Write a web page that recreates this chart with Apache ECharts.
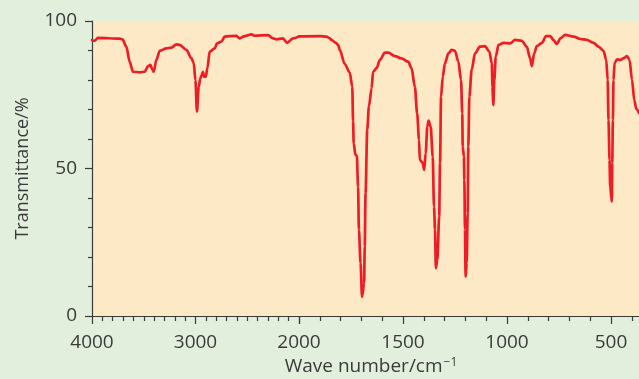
<!DOCTYPE html>
<html>
<head>
<meta charset="utf-8">
<script src="https://cdn.jsdelivr.net/npm/echarts@6/dist/echarts.min.js"></script>
<style>
  html, body { margin: 0; padding: 0; background: #e3efdd; }
  #chart { width: 639px; height: 379px; }
</style>
</head>
<body>
<div id="chart"></div>
<script>
// IR spectrum: transmittance (%) against wave number (cm^-1).
// The 4000-2000 region is drawn at half the scale of the region below 2000.

// 4000-2000 cm^-1
const wnHigh = [4000, 3974, 3942, 3732, 3706, 3668, 3636, 3604, 3539, 3491, 3459, 3436, 3416, 3404, 3378,
  3346, 3281, 3233, 3185, 3153, 3088, 3040, 3017, 3001, 2986, 2969, 2953, 2940, 2928, 2918, 2901, 2885,
  2863, 2814, 2792, 2750, 2718, 2605, 2573, 2525, 2460, 2428, 2300, 2251, 2218, 2155, 2116, 2058, 2000];
const tHigh = [93.5, 93.3, 94.3, 94.0, 93.8, 91.3, 86.2, 82.8, 82.6, 82.8, 84.7, 85.1, 83.4, 82.8, 86.8,
  89.9, 90.7, 91.0, 92.1, 91.9, 90.2, 87.4, 85.7, 80.0, 69.3, 77.7, 80.6, 81.7, 82.8, 81.1, 81.1, 84.0,
  89.6, 90.7, 92.4, 93.0, 94.7, 95.0, 94.1, 94.9, 95.5, 95.0, 95.2, 94.1, 93.8, 94.1, 92.6, 94.1, 94.8];

// 2000-364 cm^-1
const wnLow = [2000, 1900, 1868, 1852, 1844, 1823, 1812, 1804, 1780, 1756, 1744, 1740, 1737, 1729, 1722,
  1716, 1712, 1704, 1697, 1687, 1684, 1680, 1672, 1664, 1651, 1644, 1627, 1611, 1587, 1571, 1539, 1507,
  1475, 1459, 1443, 1432, 1423, 1419, 1406, 1398, 1391, 1383, 1377, 1367, 1357, 1351, 1346, 1342, 1335,
  1326, 1322, 1317, 1309, 1298, 1282, 1266, 1250, 1234, 1221, 1215, 1213, 1207, 1205, 1202, 1199, 1194,
  1189, 1186, 1181, 1170, 1154, 1130, 1106, 1085, 1073, 1070, 1066, 1061, 1054, 1041, 1017, 985, 961,
  929, 905, 889, 881, 869, 857, 832, 812, 792, 777, 760, 744, 720, 680, 648, 616, 584, 560, 536, 523,
  516, 512, 507, 504, 496, 494, 491, 488, 483, 471, 455, 439, 423, 411, 399, 388, 378, 364];
const tLow = [94.8, 94.9, 94.7, 94.1, 93.6, 92.6, 91.9, 90.2, 85.4, 82.5, 77.7, 66.0, 58.5, 54.6, 54.4,
  43.8, 29.2, 17.9, 6.5, 11.1, 23.5, 41.6, 63.1, 71.0, 77.2, 82.8, 84.0, 86.8, 89.3, 89.3, 88.1, 87.3,
  86.2, 84.0, 77.7, 68.7, 59.7, 52.9, 52.0, 49.5, 55.2, 64.2, 66.2, 64.2, 54.0, 37.1, 29.2, 16.2, 19.0,
  33.7, 51.8, 74.3, 81.1, 85.7, 89.0, 90.2, 89.9, 86.2, 80.0, 68.7, 57.4, 54.0, 46.1, 29.2, 13.3, 17.9,
  34.8, 57.4, 74.3, 83.4, 89.0, 91.3, 91.5, 89.6, 85.7, 77.7, 71.5, 80.0, 87.9, 91.9, 92.6, 92.4, 93.6,
  93.3, 91.3, 87.4, 84.7, 89.0, 91.5, 92.6, 94.9, 94.9, 93.6, 92.2, 94.1, 95.3, 94.7, 93.9, 93.6, 92.6, 91.3, 89.9, 86.8,
  80.0, 66.4, 52.9, 43.8, 38.8, 51.8, 66.4, 80.0, 85.7, 87.0, 86.8, 87.4, 88.1, 86.8, 80.0, 73.2, 70.1, 68.7];

const yTicks = [0, 50, 100];

const ink = '#3a3a3a';
const red = '#ee1d25';
const plotBg = '#fde9c5';
const font = 'Open Sans';

const zip = (xs, ys) => xs.map((x, i) => [x, ys[i]]);

const tickCommon = {
  axisLine: { show: true, onZero: false, lineStyle: { color: ink, width: 1.2 } },
  axisTick: { show: true, length: 8, lineStyle: { color: ink, width: 1.2 } },
  minorTick: { show: true, length: 5, lineStyle: { color: ink, width: 1.2 } },
  splitLine: { show: false },
  minorSplitLine: { show: false },
  axisLabel: { color: ink, fontFamily: font, fontSize: 19, margin: 17, formatter: v => String(v) }
};

const lineStyle = { color: red, width: 2.7, join: 'round', cap: 'round' };

const chart = echarts.init(document.getElementById('chart'), null, { renderer: 'canvas' });

chart.setOption({
  backgroundColor: '#e3efdd',
  animation: false,
  grid: [
    { left: 92, top: 21, width: 207, height: 295, show: true, backgroundColor: plotBg, borderWidth: 0,
      outerBoundsMode: 'none', containLabel: false },
    { left: 299, top: 21, width: 416, height: 295, show: true, backgroundColor: plotBg, borderWidth: 0,
      outerBoundsMode: 'none', containLabel: false }
  ],
  xAxis: [
    Object.assign({}, tickCommon, {
      type: 'value', gridIndex: 0, inverse: true, min: 2000, max: 4000, interval: 1000,
      minorTick: Object.assign({}, tickCommon.minorTick, { splitNumber: 10 })
    }),
    Object.assign({}, tickCommon, {
      type: 'value', gridIndex: 1, inverse: true, min: 0, max: 2000, interval: 500,
      minorTick: Object.assign({}, tickCommon.minorTick, { splitNumber: 5 }),
      axisLabel: Object.assign({}, tickCommon.axisLabel, { showMaxLabel: false })
    })
  ],
  yAxis: [
    {
      type: 'value', gridIndex: 0, min: 0, max: 100, interval: 50,
      axisLine: { show: true, lineStyle: { color: ink, width: 1.2 } },
      axisTick: { show: true, length: 7, lineStyle: { color: ink, width: 1.2 } },
      minorTick: { show: true, length: 4, splitNumber: 5, lineStyle: { color: ink, width: 1.2 } },
      splitLine: { show: false },
      axisLabel: {
        color: ink, fontFamily: font, fontSize: 19, margin: 15,
        formatter: v => (yTicks.indexOf(v) >= 0 ? String(v) : '')
      },
      name: 'Transmittance/%',
      nameLocation: 'middle',
      nameRotate: 90,
      nameGap: 60,
      nameTextStyle: { color: ink, fontFamily: font, fontSize: 18 }
    },
    { type: 'value', gridIndex: 1, min: 0, max: 100, show: false }
  ],
  graphic: [
    {
      type: 'text',
      x: 371,
      y: 367,
      style: {
        text: '{n|Wave number/cm}{s|\u22121}',
        align: 'center',
        verticalAlign: 'middle',
        fill: ink,
        rich: {
          n: { fontFamily: font, fontSize: 19, lineHeight: 22, fill: ink },
          s: { fontFamily: font, fontSize: 12, lineHeight: 12, padding: [0, 0, 9, 1], verticalAlign: 'bottom', fill: ink }
        }
      }
    }
  ],
  series: [
    {
      type: 'line', xAxisIndex: 0, yAxisIndex: 0, data: zip(wnHigh, tHigh),
      symbol: 'none', smooth: 0.3, smoothMonotone: 'x', lineStyle
    },
    {
      type: 'line', xAxisIndex: 1, yAxisIndex: 1, data: zip(wnLow, tLow),
      symbol: 'none', smooth: 0.3, smoothMonotone: 'x', lineStyle
    }
  ]
});
</script>
</body>
</html>
